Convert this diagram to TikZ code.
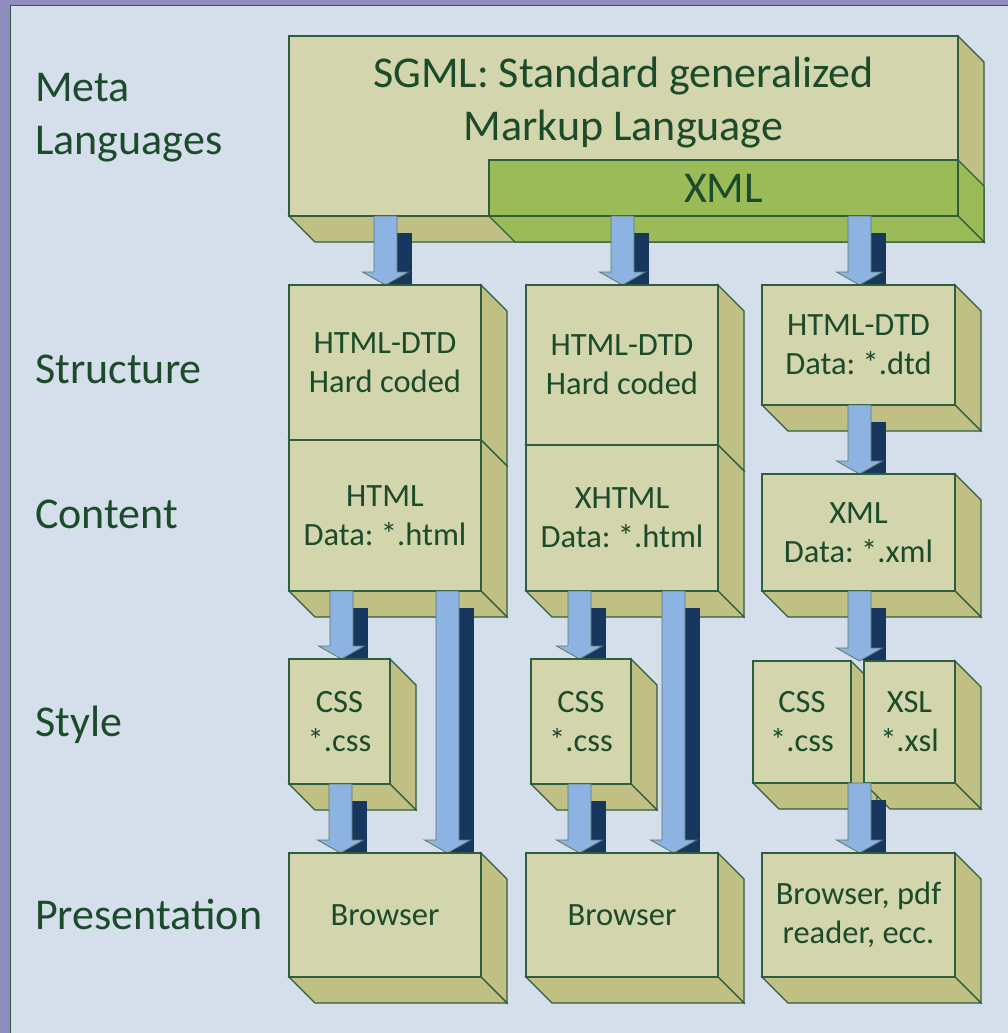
\documentclass[tikz,border=0pt]{standalone}
\usepackage{fontspec}
\setmainfont{Carlito}
\usetikzlibrary{calc}
\frenchspacing
\definecolor{outerc}{HTML}{8E8DBD}
\definecolor{panelc}{HTML}{D5DFEB}
\definecolor{borderc}{HTML}{2F5E3E}
\definecolor{txtc}{HTML}{1B4B2B}
\definecolor{frontc}{HTML}{D3D5AC}
\definecolor{sidec}{HTML}{C1C084}
\definecolor{xmlc}{HTML}{9BBB59}
\definecolor{arrowc}{HTML}{8DB3E2}
\definecolor{navyc}{HTML}{17375E}
\definecolor{arrowline}{HTML}{5A7868}
\newcommand\bigf{\fontsize{44}{53}\selectfont\frenchspacing}
\newcommand\boxf{\fontsize{32.5}{39}\selectfont\frenchspacing}
\pgfdeclarelayer{b0}\pgfdeclarelayer{a1}\pgfdeclarelayer{b1}\pgfdeclarelayer{a2}
\pgfdeclarelayer{b2}\pgfdeclarelayer{a3}\pgfdeclarelayer{b3}\pgfdeclarelayer{a4}\pgfdeclarelayer{b4}
\pgfsetlayers{main,b0,a1,b1,a2,b2,a3,b3,a4,b4}
\def\dd{26}
\tikzset{
  face/.style={draw=borderc, line width=1.2pt, inner sep=0pt, outer sep=0pt,
    align=center, text=txtc, font=\boxf},
  depthface/.style={draw=borderc, line width=1.2pt, line join=miter},
  lbl/.style={text=txtc, font=\bigf, align=left, inner sep=0pt, anchor=west},
  blockarr/.style={fill=arrowc, draw=arrowline, line width=0.8pt, line join=miter},
  arrshadow/.style={fill=navyc}
}
% #1 options, #2 name, #3 x1, #4 y1, #5 x2, #6 y2, #7 front, #8 side, #9 text
\newcommand\cube[9][]{%
  \filldraw[depthface, fill=#8] (#5,#4) -- ++(\dd,\dd) -- (#5+\dd,#6+\dd) -- (#5,#6) -- cycle;
  \filldraw[depthface, fill=#8] (#3,#6) -- (#5,#6) -- (#5+\dd,#6+\dd) -- (#3+\dd,#6+\dd) -- cycle;
  \node[face, fill=#7, minimum width={#5pt-#3pt}, minimum height={#6pt-#4pt},
        anchor=north west, #1] (#2) at (#3,#4) {#9};
}
% #1 x centre, #2 from node, #3 to node
\newcommand\barrow[3]{%
  \fill[arrshadow] let \p1=(#2.south), \p2=(#3.north) in
    ({#1pt+3.5pt},{\y1-17pt}) rectangle ({#1pt+26.5pt},\y2);
  \filldraw[blockarr] let \p1=(#2.south), \p2=(#3.north) in
    ({#1pt-11.5pt},\y1) -- ({#1pt+11.5pt},\y1) -- ({#1pt+11.5pt},{\y2+13pt})
    -- ({#1pt+23pt},{\y2+13pt}) -- (#1pt,\y2) -- ({#1pt-23pt},{\y2+13pt})
    -- ({#1pt-11.5pt},{\y2+13pt}) -- cycle;
}
\begin{document}
\begin{tikzpicture}[x=1pt,y=-1pt]
\useasboundingbox (0,0) rectangle (1008,1033);
\fill[outerc] (0,0) rectangle (1008,1033);
\filldraw[fill=panelc, draw=borderc, line width=1.5pt] (10.5,5.5) rectangle (1020,1045);

\node[lbl] (lmeta) at (35,118) {Meta\\Languages};
\node[lbl] (lstruct) at (35,369) {Structure};
\node[lbl] (lcontent) at (35,514) {Content};
\node[lbl] (lstyle) at (35,725) {Style};
\node[lbl] (lpres) at (35,914) {Presentation};

\begin{pgfonlayer}{b0}
\cube{sgml}{289}{36}{958}{216}{frontc}{sidec}{}
\node[text=txtc, font=\bigf, align=center, inner sep=0pt] (sgmltxt) at (623.5,103)
  {SGML: Standard generalized\\Markup Language};
\cube[font=\bigf]{xml}{489}{160}{958}{216}{xmlc}{xmlc}{XML}
\end{pgfonlayer}

\begin{pgfonlayer}{b1}
\cube{s1}{289}{285}{481}{440}{frontc}{sidec}{HTML-DTD\\Hard coded}
\cube{s2}{526}{285}{718}{445}{frontc}{sidec}{HTML-DTD\\Hard coded}
\cube{s3}{762}{285}{955}{405}{frontc}{sidec}{HTML-DTD\\Data: *.dtd}
\end{pgfonlayer}

\begin{pgfonlayer}{b2}
\cube{c1}{289}{440}{481}{591}{frontc}{sidec}{HTML\\Data: *.html}
\cube{c2}{526}{445}{718}{591}{frontc}{sidec}{XHTML\\Data: *.html}
\cube{c3}{762}{474}{955}{591}{frontc}{sidec}{XML\\Data: *.xml}
\end{pgfonlayer}

\begin{pgfonlayer}{b3}
\cube{css1}{289}{659}{390}{784}{frontc}{sidec}{CSS\\*.css}
\cube{css2}{531}{659}{631}{784}{frontc}{sidec}{CSS\\*.css}
\cube{css3}{753}{661}{851}{783}{frontc}{sidec}{CSS\\*.css}
\cube{xsl}{864}{661}{955}{783}{frontc}{sidec}{XSL\\*.xsl}
\end{pgfonlayer}

\begin{pgfonlayer}{b4}
\cube{p1}{289}{853}{481}{977}{frontc}{sidec}{Browser}
\cube{p2}{526}{853}{718}{977}{frontc}{sidec}{Browser}
\cube{p3}{762}{853}{955}{977}{frontc}{sidec}{Browser, pdf\\reader, ecc.}
\end{pgfonlayer}

\begin{pgfonlayer}{a1}
\barrow{385.5}{sgml}{s1}
\barrow{622.5}{xml}{s2}
\barrow{859.5}{xml}{s3}
\end{pgfonlayer}

\begin{pgfonlayer}{a2}
\barrow{859.5}{s3}{c3}
\end{pgfonlayer}

\begin{pgfonlayer}{a3}
\barrow{341.5}{c1}{css1}
\barrow{447.5}{c1}{p1}
\barrow{579.5}{c2}{css2}
\barrow{673.5}{c2}{p2}
\barrow{859.5}{c3}{xsl}
\end{pgfonlayer}

\begin{pgfonlayer}{a4}
\barrow{340.5}{css1}{p1}
\barrow{579.5}{css2}{p2}
\barrow{859.5}{xsl}{p3}
\end{pgfonlayer}
\end{tikzpicture}
\end{document}
